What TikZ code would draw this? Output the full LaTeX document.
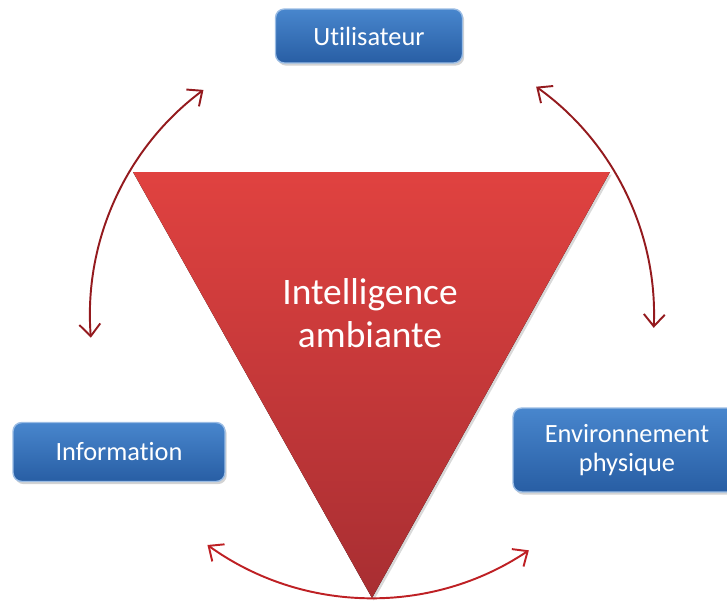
\documentclass[tikz,border=0pt]{standalone}
\usepackage{fontspec}
\setmainfont{Carlito}[Ligatures=CommonOff]
\usetikzlibrary{positioning,shadows,arrows.meta}
\definecolor{myblue}{RGB}{72,134,205}
\definecolor{mydarkblue}{RGB}{40,94,164}
\definecolor{myred}{RGB}{224,66,64}
\definecolor{mydarkred}{RGB}{168,46,50}
\definecolor{myarrow}{RGB}{148,26,30}
\definecolor{myarrowb}{RGB}{190,32,36}
\tikzset{
		boxStyle/.style = {rounded corners=5pt, draw=myblue!55!white, line width=0.8pt,
			top color=myblue, bottom color=mydarkblue, text=white, align=center,
			font=\fontsize{15}{16.6}\selectfont,
			drop shadow={opacity=0.35, shadow xshift=1pt, shadow yshift=-1.5pt}},
		arcStyle/.style = {line width=1.1pt,
			{Straight Barb[length=2.4mm,width=4.2mm]}-{Straight Barb[length=2.4mm,width=4.2mm]}},
		x=0.02cm, y=0.02cm
}

\begin{document}
\begin{tikzpicture}
  \useasboundingbox (0,0) rectangle (727,603);
  \coordinate (C) at (372,287);
  \coordinate (A) at (133,431);
  \coordinate (B) at (610,431);
  \coordinate (D) at (372,5);

  % triangle
  \fill[top color=myred, bottom color=mydarkred,
        drop shadow={opacity=0.3, shadow xshift=1pt, shadow yshift=-1.5pt}]
    (A) -- (B) -- (D) -- cycle;
  \node[text=white, align=center, font=\fontsize{21.3}{24.4}\selectfont] (ia) at (370,290)
    {Intelligence\\ambiante};

  % boxes
  \node[boxStyle, minimum width=3.74cm, minimum height=1.08cm] (user) at (369,567) {Utilisateur};
  \node[boxStyle, minimum width=4.24cm, minimum height=1.18cm] (info) at (119,151) {Information};
  \node[boxStyle, minimum width=4.56cm, minimum height=1.68cm] (env) at (627,153)
    {Environnement\\physique};

  % arcs
  \foreach \a/\b/\c in {184.4/126.7/myarrow, 54.4/-2.4/myarrow, 234.3/303.8/myarrowb}
    \draw[arcStyle, color=\c] (C) ++(\a:282) arc[start angle=\a, end angle=\b, radius=282];

\end{tikzpicture}
\end{document}
